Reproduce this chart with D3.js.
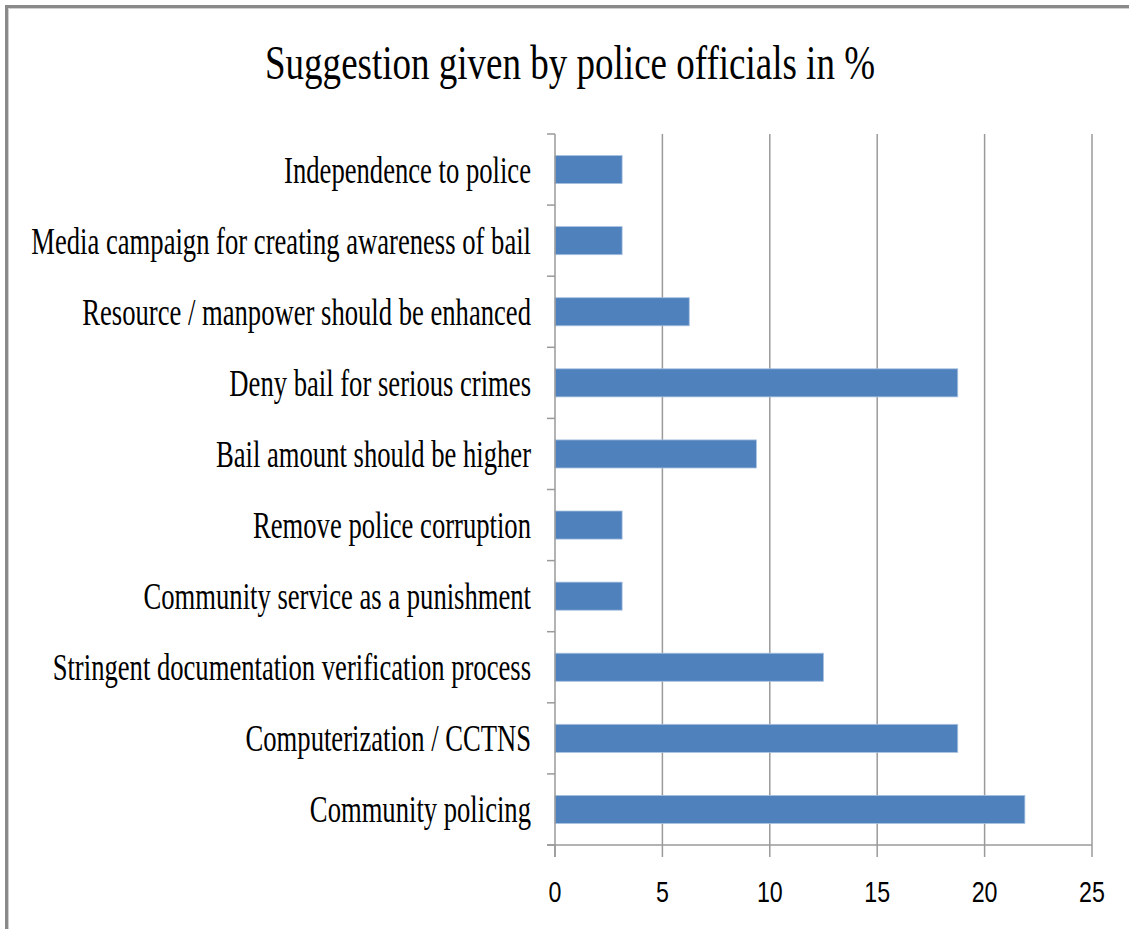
<!DOCTYPE html>
<html>
<head>
<meta charset="utf-8">
<script src="https://cdn.jsdelivr.net/npm/d3@7"></script>
<style>
  html, body { margin: 0; padding: 0; background: #fff; }
  svg { display: block; }
</style>
</head>
<body>
<svg id="chart" width="1129" height="929"></svg>
<script>
// ---- data ----
const title = "Suggestion given by police officials in %";
const categories = [
  "Independence to police",
  "Media campaign for creating awareness of bail",
  "Resource / manpower should be enhanced",
  "Deny bail for serious crimes",
  "Bail amount should be higher",
  "Remove police corruption",
  "Community service as a punishment",
  "Stringent documentation verification process",
  "Computerization / CCTNS",
  "Community policing"
];
const values = [3.125, 3.125, 6.25, 18.75, 9.375, 3.125, 3.125, 12.5, 18.75, 21.875];
const xTicks = [0, 5, 10, 15, 20, 25];

// ---- layout ----
const svg = d3.select("#chart");
const plot = { left: 555, right: 1092, top: 134, bottom: 845 };
const barColor = "#4f81bd";
const gridColor = "#9a9a9a";

const x = d3.scaleLinear().domain([0, 25]).range([plot.left, plot.right]);
const pad = 0.605;
const y = d3.scaleBand().domain(categories).range([plot.top, plot.bottom])
  .paddingInner(pad).paddingOuter(pad / 2);

// border (frame of the chart area, cropped on right/bottom)
svg.append("line").attr("x1", 5).attr("x2", 1129).attr("y1", 6.5).attr("y2", 6.5)
  .attr("stroke", "#8a8a8a").attr("stroke-width", 3);
svg.append("line").attr("x1", 6.5).attr("x2", 6.5).attr("y1", 5).attr("y2", 929)
  .attr("stroke", "#8a8a8a").attr("stroke-width", 3);
svg.append("line").attr("x1", 8).attr("x2", 1129).attr("y1", 8.5).attr("y2", 8.5)
  .attr("stroke", "#d0d0d0").attr("stroke-width", 1);
svg.append("line").attr("x1", 8.5).attr("x2", 8.5).attr("y1", 8).attr("y2", 929)
  .attr("stroke", "#d0d0d0").attr("stroke-width", 1);

// gridlines
svg.append("g").selectAll("line").data(xTicks.filter(d => d > 0)).join("line")
  .attr("x1", d => x(d)).attr("x2", d => x(d))
  .attr("y1", plot.top).attr("y2", plot.bottom)
  .attr("stroke", gridColor).attr("stroke-width", 1.5);

// x ticks below axis
svg.append("g").selectAll("line").data(xTicks).join("line")
  .attr("x1", d => x(d)).attr("x2", d => x(d))
  .attr("y1", plot.bottom).attr("y2", plot.bottom + 12)
  .attr("stroke", gridColor).attr("stroke-width", 1.5);

// bars
svg.append("g").selectAll("rect").data(categories).join("rect")
  .attr("x", x(0))
  .attr("y", d => y(d))
  .attr("width", (d, i) => x(values[i]) - x(0))
  .attr("height", y.bandwidth())
  .attr("fill", barColor)
  .attr("stroke", "#a9c2e0").attr("stroke-width", 0.8);

// category axis line + boundary ticks
const step = y.step();
const bounds = d3.range(categories.length + 1).map(i => plot.top + i * step);
svg.append("g").selectAll("line").data(bounds).join("line")
  .attr("x1", plot.left - 8).attr("x2", plot.left)
  .attr("y1", d => d).attr("y2", d => d)
  .attr("stroke", gridColor).attr("stroke-width", 1.5);
svg.append("line").attr("x1", x(0)).attr("x2", x(0))
  .attr("y1", plot.top).attr("y2", plot.bottom + 12)
  .attr("stroke", gridColor).attr("stroke-width", 1.5);
svg.append("line").attr("x1", plot.left - 8).attr("x2", plot.right)
  .attr("y1", plot.bottom).attr("y2", plot.bottom)
  .attr("stroke", gridColor).attr("stroke-width", 1.5);

// helper: horizontally condensed text
function condensedText(parent, str, px, py, size, family, sx, anchor) {
  const g = parent.append("g").attr("transform", `translate(${px},${py}) scale(${sx},1)`);
  return g.append("text").text(str)
    .attr("font-family", family).attr("font-size", size)
    .attr("text-anchor", anchor).attr("fill", "#000");
}

// title
const serif = "'Liberation Serif', 'Times New Roman', serif";
const tTmp = svg.append("text").text(title).attr("font-family", serif).attr("font-size", 48);
const tW = tTmp.node().getComputedTextLength(); tTmp.remove();
condensedText(svg, title, 570, 79, 48, serif, 610 / tW, "middle");

// category labels
const lTmp = svg.append("text").text(categories[1]).attr("font-family", serif).attr("font-size", 37);
const lW = lTmp.node().getComputedTextLength(); lTmp.remove();
const lsx = 500 / lW;
const lg = svg.append("g");
categories.forEach(c => {
  condensedText(lg, c, 531, y(c) + y.bandwidth() / 2 + 13, 37, serif, lsx, "end");
});

// x tick labels
const sans = "'Liberation Sans', Arial, sans-serif";
const xg = svg.append("g");
xTicks.forEach(t => {
  condensedText(xg, String(t), x(t), 902, 29, sans, 0.8, "middle");
});
</script>
</body>
</html>
